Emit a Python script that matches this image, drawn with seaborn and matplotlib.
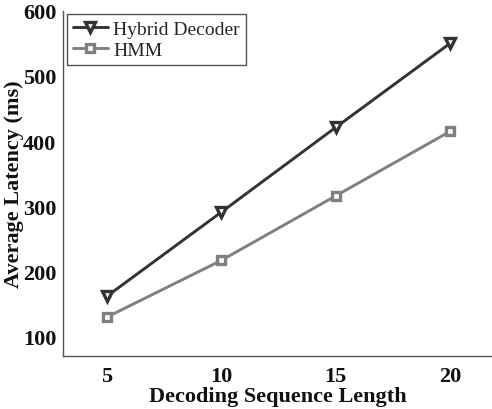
import numpy as np
import pandas as pd
import matplotlib
matplotlib.use("Agg")
import matplotlib.pyplot as plt
import seaborn as sns

seq_length = [5, 10, 15, 20]
hybrid_latency = [162, 291, 421, 550]
hmm_latency = [130, 217, 316, 415]
series_names = ["Hybrid Decoder", "HMM"]
x_ticks = [5, 10, 15, 20]
y_ticks = [100, 200, 300, 400, 500, 600]

df = pd.DataFrame({
    "x": seq_length * 2,
    "y": hybrid_latency + hmm_latency,
    "series": [series_names[0]] * 4 + [series_names[1]] * 4,
})

sns.set_theme(style="white")
plt.rcParams["font.family"] = ["Liberation Serif", "DejaVu Serif"]

fig = plt.figure(figsize=(4.92, 4.10), dpi=100)
ax = fig.add_axes([63.3 / 492, 52.7 / 410, 1 - 63.3 / 492, (357.3 - 11.7) / 410])

palette = {series_names[0]: "#333333", series_names[1]: "#808080"}
markers = {series_names[0]: "v", series_names[1]: "s"}
sizes_ms = {series_names[0]: 7.5, series_names[1]: 5.8}

for name in series_names:
    sub = df[df["series"] == name]
    sns.lineplot(data=sub, x="x", y="y", ax=ax, color=palette[name],
                 marker=markers[name], markersize=sizes_ms[name],
                 markerfacecolor="white", markeredgecolor=palette[name],
                 markeredgewidth=2.4, linewidth=2.1, label=name)

ax.set_xlim(3.1, 21.83)
ax.set_ylim(70, 600)
ax.set_xticks(x_ticks)
ax.set_yticks(y_ticks)
for s in ["top", "right"]:
    ax.spines[s].set_visible(False)
for s in ["left", "bottom"]:
    ax.spines[s].set_color("#555555")
    ax.spines[s].set_linewidth(1.0)
ax.tick_params(axis="x", direction="in", length=4, width=0.8, color="#555555",
               labelsize=16, pad=7)
ax.tick_params(axis="y", direction="out", length=3, width=0.8, color="#555555",
               labelsize=16, pad=2)
for lab in ax.get_xticklabels() + ax.get_yticklabels():
    lab.set_fontweight("bold")
    lab.set_color("#111111")

ax.set_xlabel("Decoding Sequence Length", fontsize=16, fontweight="bold",
              color="#111111", labelpad=0)
ax.set_ylabel("Average Latency (ms)", fontsize=16, fontweight="bold",
              color="#111111", labelpad=-1)

leg = ax.legend(loc="upper left", bbox_to_anchor=(0.008, 0.99), fontsize=14,
                frameon=True, fancybox=False, edgecolor="#555555",
                handlelength=1.8, handletextpad=0.3, borderpad=0.3,
                labelspacing=0.2, borderaxespad=0.0)
leg.get_frame().set_linewidth(1.0)
leg.get_frame().set_facecolor("white")
leg.get_frame().set_alpha(1.0)

fig.savefig("out.png", dpi=100)
